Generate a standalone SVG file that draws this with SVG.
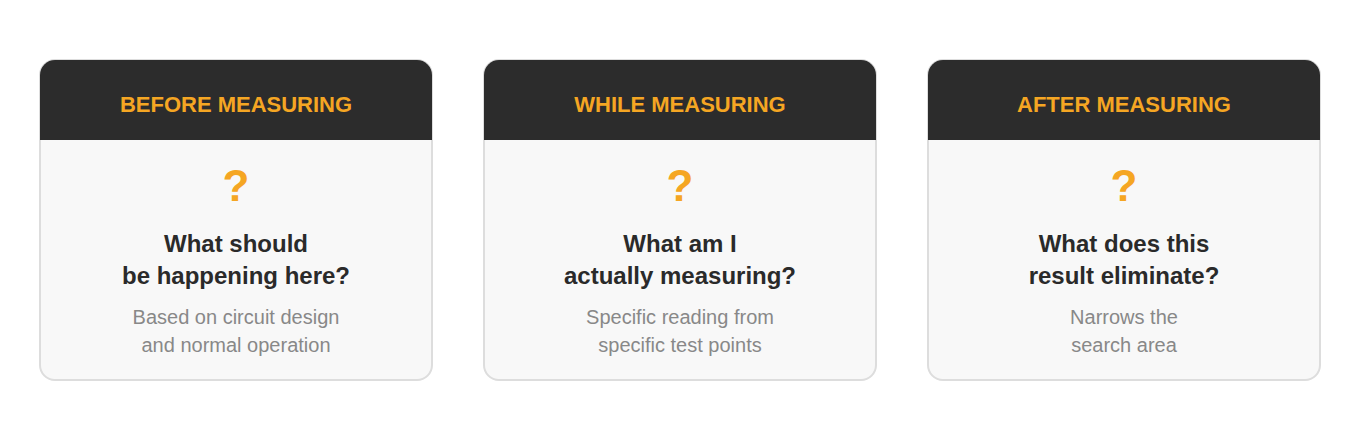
<svg xmlns="http://www.w3.org/2000/svg" width="1360" height="440" viewBox="0 0 1360 440">
<style>
.card{fill:#f8f8f8;stroke:#dddddd;stroke-width:2}
.head{fill:#2c2c2c}
.ht{font-family:"Liberation Sans",Arial,sans-serif;font-weight:bold;font-size:22px;fill:#f5a623;text-anchor:middle}
.q{font-family:"Liberation Sans",Arial,sans-serif;font-weight:bold;font-size:44px;fill:#f5a623;text-anchor:middle}
.t{font-family:"Liberation Sans",Arial,sans-serif;font-weight:bold;font-size:24px;fill:#2a2a2a;text-anchor:middle}
.s{font-family:"Liberation Sans",Arial,sans-serif;font-size:20px;fill:#888888;text-anchor:middle}
</style>
<rect width="1360" height="440" fill="#ffffff"/>
<g id="before">
<rect class="card" x="40" y="60" width="392" height="320" rx="15"/>
<path class="head" d="M40,140 V75 A15,15 0 0 1 55,60 H417 A15,15 0 0 1 432,75 V140 Z"/>
<text class="ht" x="236" y="112">BEFORE MEASURING</text>
<text class="q" x="236" y="201">?</text>
<text class="t" x="236" y="252">What should</text>
<text class="t" x="236" y="284">be happening here?</text>
<text class="s" x="236" y="324">Based on circuit design</text>
<text class="s" x="236" y="352">and normal operation</text>
</g>
<g id="while">
<rect class="card" x="484" y="60" width="392" height="320" rx="15"/>
<path class="head" d="M484,140 V75 A15,15 0 0 1 499,60 H861 A15,15 0 0 1 876,75 V140 Z"/>
<text class="ht" x="680" y="112">WHILE MEASURING</text>
<text class="q" x="680" y="201">?</text>
<text class="t" x="680" y="252">What am I</text>
<text class="t" x="680" y="284">actually measuring?</text>
<text class="s" x="680" y="324">Specific reading from</text>
<text class="s" x="680" y="352">specific test points</text>
</g>
<g id="after">
<rect class="card" x="928" y="60" width="392" height="320" rx="15"/>
<path class="head" d="M928,140 V75 A15,15 0 0 1 943,60 H1305 A15,15 0 0 1 1320,75 V140 Z"/>
<text class="ht" x="1124" y="112">AFTER MEASURING</text>
<text class="q" x="1124" y="201">?</text>
<text class="t" x="1124" y="252">What does this</text>
<text class="t" x="1124" y="284">result eliminate?</text>
<text class="s" x="1124" y="324">Narrows the</text>
<text class="s" x="1124" y="352">search area</text>
</g>
<g id="connectors"/>
</svg>
